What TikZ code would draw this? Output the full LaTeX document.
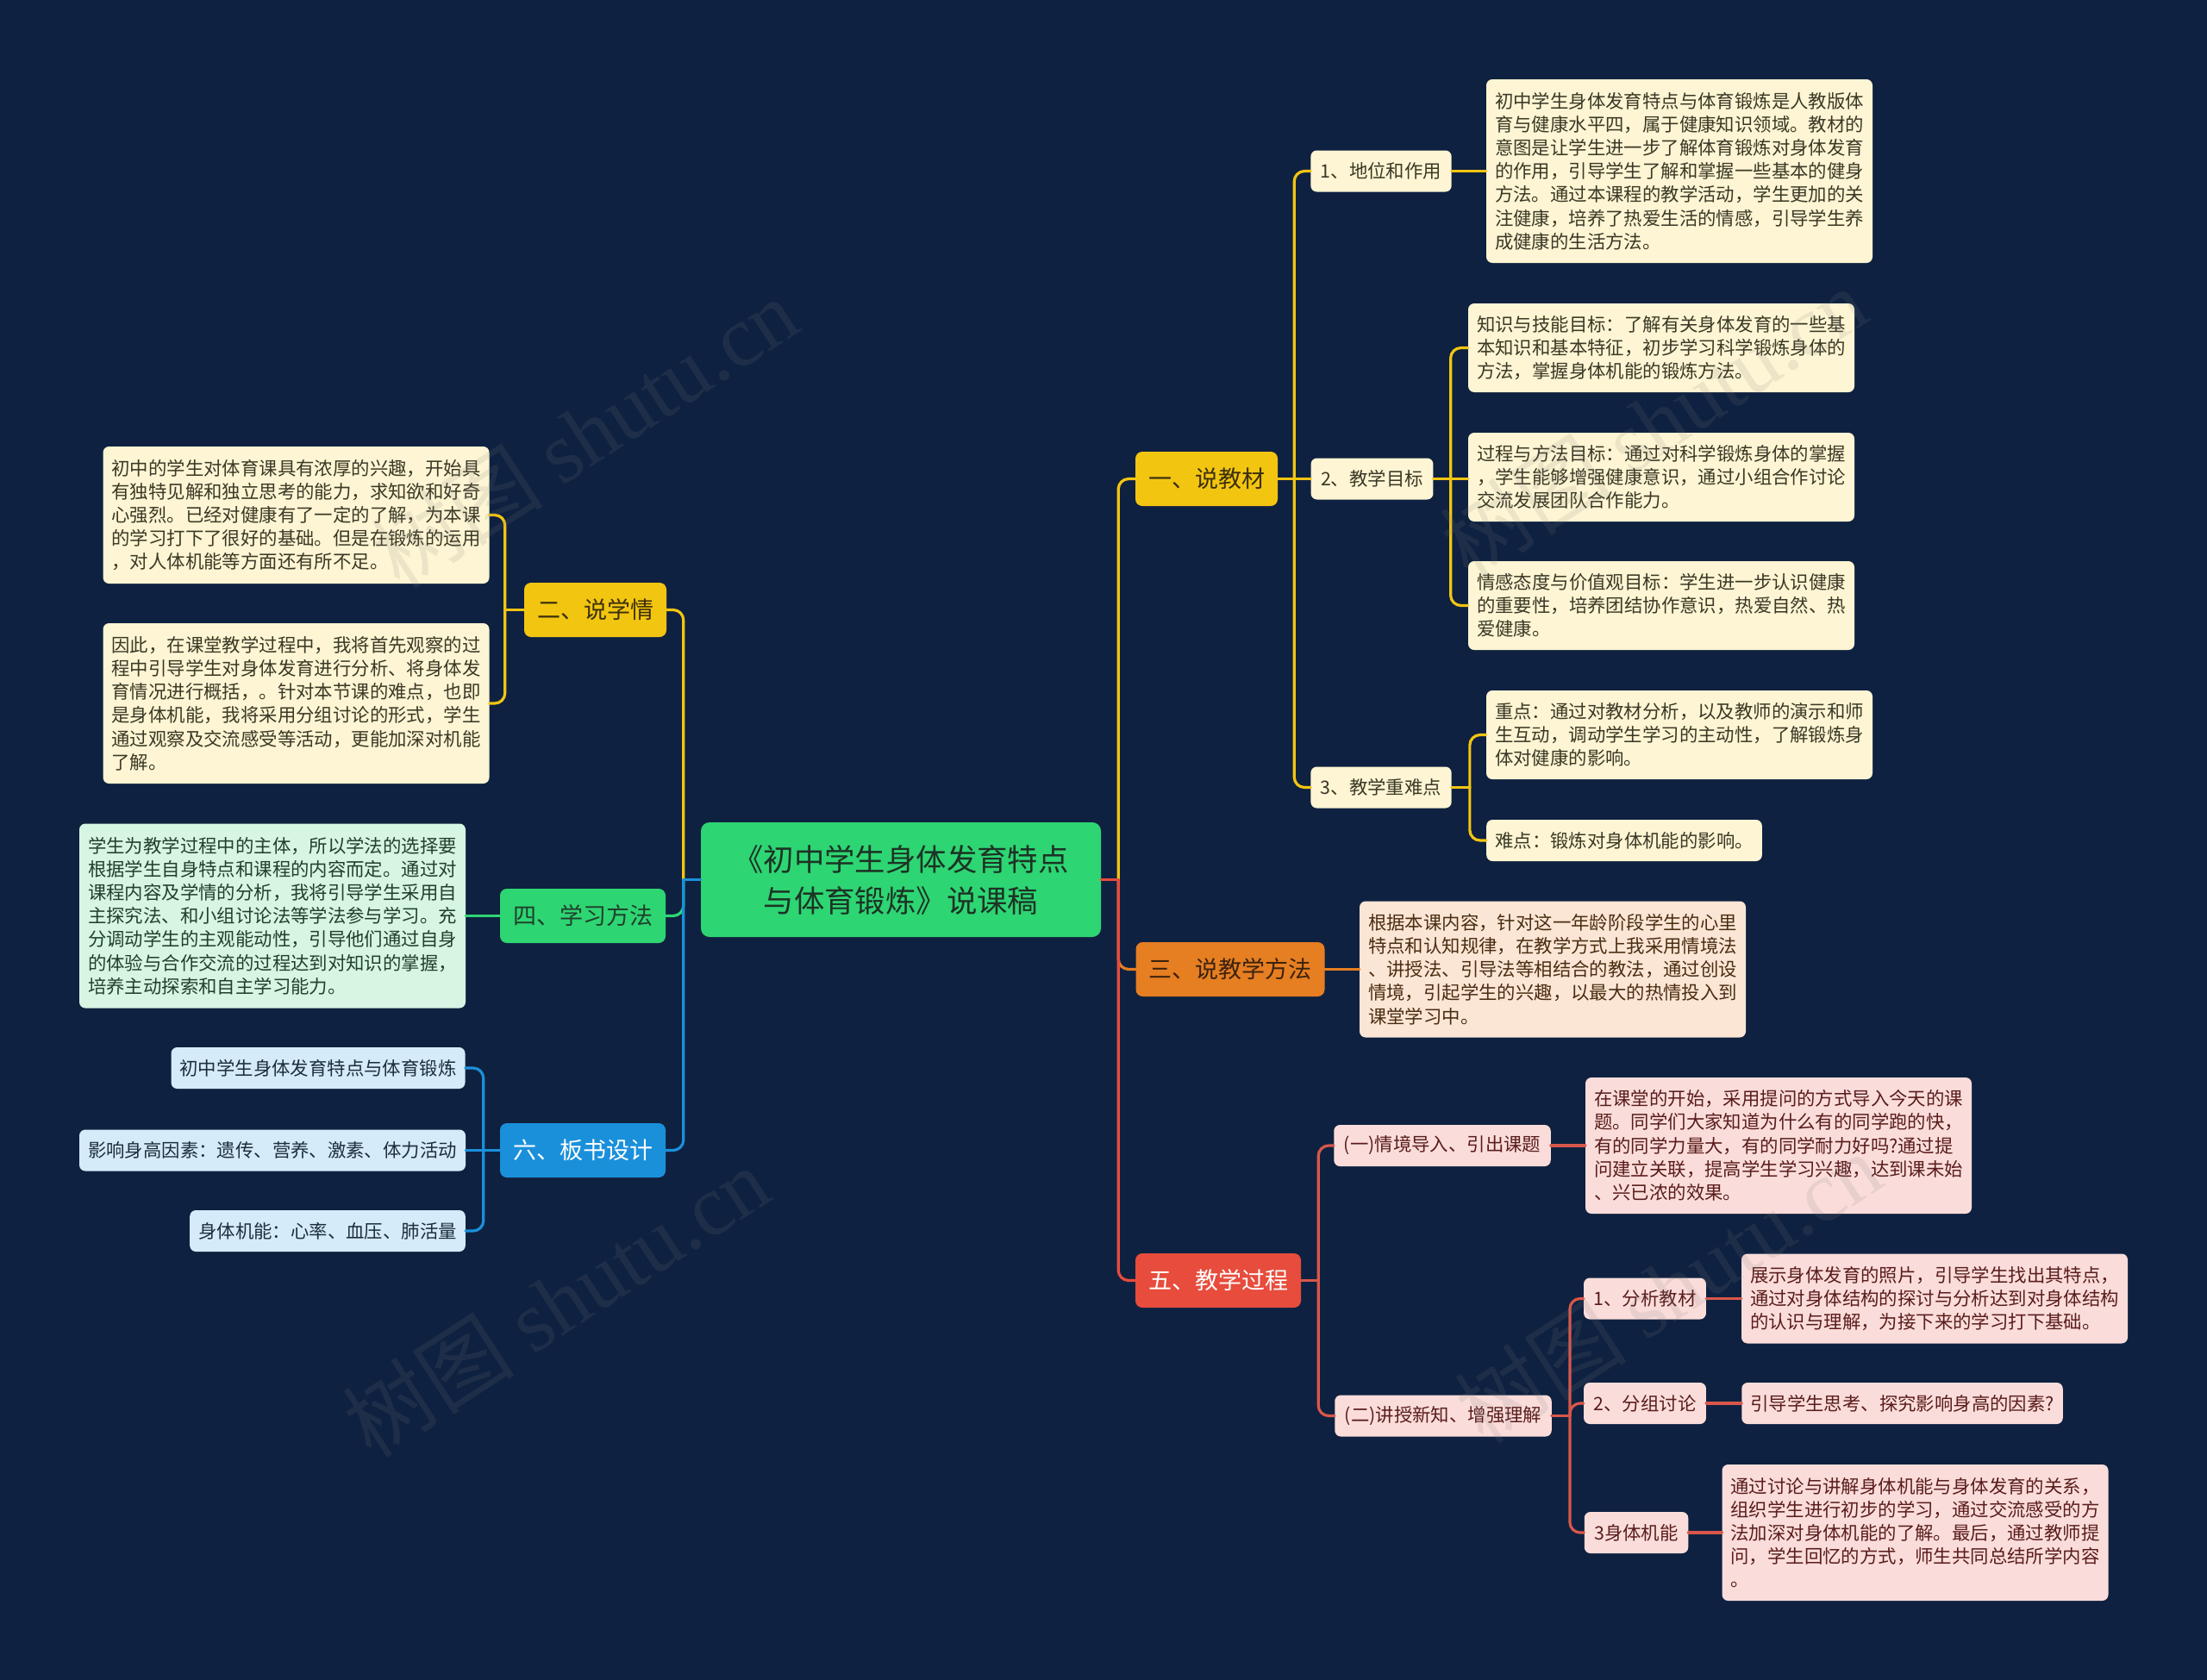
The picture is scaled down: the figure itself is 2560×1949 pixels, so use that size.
\documentclass[tikz,border=0pt]{standalone}
\usepackage{fontspec}
\setmainfont{Noto Sans CJK SC}
\newfontfamily\wmserif{Liberation Serif}
\usetikzlibrary{calc}
\definecolor{bgc}{HTML}{0F2140}
\definecolor{yel}{HTML}{F2C511}
\definecolor{cream}{HTML}{FDF5D3}
\definecolor{creamtxt}{HTML}{3A3826}
\definecolor{rootg}{HTML}{2ED573}
\definecolor{roottxt}{HTML}{1C3325}
\definecolor{lgreen}{HTML}{D6F6E3}
\definecolor{lgreentxt}{HTML}{20402C}
\definecolor{blu}{HTML}{1A90DB}
\definecolor{lblue}{HTML}{D5EBF9}
\definecolor{lbluetxt}{HTML}{1B2E3D}
\definecolor{ora}{HTML}{E67E22}
\definecolor{oratxt}{HTML}{3A220C}
\definecolor{peach}{HTML}{FBE6D5}
\definecolor{peachtxt}{HTML}{4A2D12}
\definecolor{redm}{HTML}{E74C3C}
\definecolor{reds}{HTML}{D9574A}
\definecolor{pink}{HTML}{FADDDA}
\definecolor{pinktxt}{HTML}{5A1C1C}
\definecolor{yeltxt}{HTML}{3B2F0B}
\newcommand\fsL{\fontsize{21.4pt}{27.2pt}\selectfont}
\newcommand\fsM{\fontsize{27pt}{32pt}\selectfont}
\newcommand\fsR{\fontsize{35.4pt}{48pt}\selectfont}
\newcommand\fsW{\fontsize{100pt}{110pt}\selectfont}
\newcommand\elbow[4]{\draw[conn,#1] (#2) -- (#3); \draw[conn,#1,rounded corners=12pt] (#3) |- (#4);}
\tikzset{
  conn/.style={line width=3.2pt, line cap=round},
  rootbox/.style={rounded corners=10pt, fill=rootg, text=roottxt, font=\fsR, align=center, minimum width=464pt, minimum height=133pt},
  lvlone/.style={rounded corners=8pt, minimum height=63pt, inner xsep=15pt, font=\fsM},
  lvltwo/.style={rounded corners=7pt, minimum height=48pt, inner xsep=11.5pt, font=\fsL},
  leaf/.style={rounded corners=7pt, inner xsep=10pt, inner ysep=6pt, align=left, font=\fsL},
  wm/.style={font=\fsW, text=gray, text opacity=0.14, rotate=33}
}
\begin{document}
\begin{tikzpicture}[x=1pt,y=-1pt]
\useasboundingbox[fill=bgc] (0,0) rectangle (2560,1949);

% root
\node[rootbox] (root) at (1045,1020.5) {《初中学生身体发育特点\\与体育锻炼》说课稿};

% level one
\node[lvlone, fill=yel, text=yeltxt] (n1) at (1399.5,555.5) {一、说教材};
\node[lvlone, fill=ora, text=oratxt] (n3) at (1427,1124.5) {三、说教学方法};
\node[lvlone, fill=redm, text=white] (n5) at (1413,1485.5) {五、教学过程};
\node[lvlone, fill=yel, text=yeltxt] (n2) at (690.5,707.5) {二、说学情};
\node[lvlone, fill=rootg, text=lgreentxt] (n4) at (676,1062.5) {四、学习方法};
\node[lvlone, fill=blu, text=white] (n6) at (676,1334.5) {六、板书设计};

% branch one
\node[lvltwo, fill=cream, text=creamtxt] (a1) at (1602,198.5) {1、地位和作用};
\node[lvltwo, fill=cream, text=creamtxt] (a2) at (1591.5,555.5) {2、教学目标};
\node[lvltwo, fill=cream, text=creamtxt] (a3) at (1602,913.5) {3、教学重难点};
\node[leaf, fill=cream, text=creamtxt, minimum height=213pt] (a1t) at (1948,198.5) {初中学生身体发育特点与体育锻炼是人教版体\\育与健康水平四，属于健康知识领域。教材的\\意图是让学生进一步了解体育锻炼对身体发育\\的作用，引导学生了解和掌握一些基本的健身\\方法。通过本课程的教学活动，学生更加的关\\注健康，培养了热爱生活的情感，引导学生养\\成健康的生活方法。};
\node[leaf, fill=cream, text=creamtxt, minimum height=103pt] (a2a) at (1927,403.5) {知识与技能目标：了解有关身体发育的一些基\\本知识和基本特征，初步学习科学锻炼身体的\\方法，掌握身体机能的锻炼方法。};
\node[leaf, fill=cream, text=creamtxt, minimum height=103pt] (a2b) at (1927,553.5) {过程与方法目标：通过对科学锻炼身体的掌握\\，学生能够增强健康意识，通过小组合作讨论\\交流发展团队合作能力。};
\node[leaf, fill=cream, text=creamtxt, minimum height=103pt] (a2c) at (1927,702.5) {情感态度与价值观目标：学生进一步认识健康\\的重要性，培养团结协作意识，热爱自然、热\\爱健康。};
\node[leaf, fill=cream, text=creamtxt, minimum height=103pt] (a3a) at (1948,852.5) {重点：通过对教材分析，以及教师的演示和师\\生互动，调动学生学习的主动性，了解锻炼身\\体对健康的影响。};
\node[leaf, fill=cream, text=creamtxt, minimum height=48pt] (a3b) at (1884,975) {难点：锻炼对身体机能的影响。};

% branch two
\node[leaf, fill=cream, text=creamtxt, minimum height=159pt] (b1) at (343.5,597.5) {初中的学生对体育课具有浓厚的兴趣，开始具\\有独特见解和独立思考的能力，求知欲和好奇\\心强烈。已经对健康有了一定的了解，为本课\\的学习打下了很好的基础。但是在锻炼的运用\\，对人体机能等方面还有所不足。};
\node[leaf, fill=cream, text=creamtxt, minimum height=186pt] (b2) at (343.5,816) {因此，在课堂教学过程中，我将首先观察的过\\程中引导学生对身体发育进行分析、将身体发\\育情况进行概括，。针对本节课的难点，也即\\是身体机能，我将采用分组讨论的形式，学生\\通过观察及交流感受等活动，更能加深对机能\\了解。};

% branch four
\node[leaf, fill=lgreen, text=lgreentxt, minimum height=214pt] (d1) at (316,1062.5) {学生为教学过程中的主体，所以学法的选择要\\根据学生自身特点和课程的内容而定。通过对\\课程内容及学情的分析，我将引导学生采用自\\主探究法、和小组讨论法等学法参与学习。充\\分调动学生的主观能动性，引导他们通过自身\\的体验与合作交流的过程达到对知识的掌握，\\培养主动探索和自主学习能力。};

% branch six
\node[leaf, fill=lblue, text=lbluetxt, minimum height=48pt] (f1) at (369,1239) {初中学生身体发育特点与体育锻炼};
\node[leaf, fill=lblue, text=lbluetxt, minimum height=48pt] (f2) at (316,1334.5) {影响身高因素：遗传、营养、激素、体力活动};
\node[leaf, fill=lblue, text=lbluetxt, minimum height=48pt] (f3) at (380,1428) {身体机能：心率、血压、肺活量};

% branch three
\node[leaf, fill=peach, text=peachtxt, minimum height=158pt] (c1) at (1801,1124.5) {根据本课内容，针对这一年龄阶段学生的心里\\特点和认知规律，在教学方式上我采用情境法\\、讲授法、引导法等相结合的教法，通过创设\\情境，引起学生的兴趣，以最大的热情投入到\\课堂学习中。};

% branch five
\node[lvltwo, fill=pink, text=pinktxt] (e1) at (1673,1329) {(一)情境导入、引出课题};
\node[lvltwo, fill=pink, text=pinktxt] (e2) at (1674,1642.5) {(二)讲授新知、增强理解};
\node[leaf, fill=pink, text=pinktxt, minimum height=158pt] (e1t) at (2063,1329) {在课堂的开始，采用提问的方式导入今天的课\\题。同学们大家知道为什么有的同学跑的快，\\有的同学力量大，有的同学耐力好吗?通过提\\问建立关联，提高学生学习兴趣，达到课未始\\、兴已浓的效果。};
\node[lvltwo, fill=pink, text=pinktxt] (g1) at (1908,1506.5) {1、分析教材};
\node[lvltwo, fill=pink, text=pinktxt] (g2) at (1908,1628) {2、分组讨论};
\node[lvltwo, fill=pink, text=pinktxt] (g3) at (1898,1778) {3身体机能};
\node[leaf, fill=pink, text=pinktxt, minimum height=104pt] (g1t) at (2244,1506.5) {展示身体发育的照片，引导学生找出其特点，\\通过对身体结构的探讨与分析达到对身体结构\\的认识与理解，为接下来的学习打下基础。};
\node[leaf, fill=pink, text=pinktxt, minimum height=48pt] (g2t) at (2206.5,1628) {引导学生思考、探究影响身高的因素?};
\node[leaf, fill=pink, text=pinktxt, minimum height=158pt] (g3t) at (2221.5,1778) {通过讨论与讲解身体机能与身体发育的关系，\\组织学生进行初步的学习，通过交流感受的方\\法加深对身体机能的了解。最后，通过教师提\\问，学生回忆的方式，师生共同总结所学内容\\。};

% junctions
\coordinate (jR) at ($(root.east)+(20,0)$);
\coordinate (jL) at ($(root.west)+(-20,0)$);
\coordinate (j1) at ($(n1.east)+(19,0)$);
\coordinate (j12) at ($(a2.east)+(20,0)$);
\coordinate (j13) at ($(a3.east)+(21,0)$);
\coordinate (j2) at ($(n2.west)+(-22,0)$);
\coordinate (j6) at ($(n6.west)+(-19,0)$);
\coordinate (j5) at ($(n5.east)+(20,0)$);
\coordinate (j52) at ($(e2.east)+(21,0)$);

% connectors: root right
\elbow{yel}{root.east}{jR}{n1.west}
\elbow{ora}{root.east}{jR}{n3.west}
\elbow{redm}{root.east}{jR}{n5.west}
% root left
\elbow{yel}{root.west}{jL}{n2.east}
\elbow{rootg}{root.west}{jL}{n4.east}
\elbow{blu}{root.west}{jL}{n6.east}
% branch one
\elbow{yel}{n1.east}{j1}{a1.west}
\elbow{yel}{n1.east}{j1}{a3.west}
\draw[conn,yel] (n1.east) -- (a2.west);
\draw[conn,yel] (a1.east) -- (a1.east -| a1t.west);
\elbow{yel}{a2.east}{j12}{a2a.west}
\elbow{yel}{a2.east}{j12}{a2c.west}
\draw[conn,yel] (a2.east) -- (a2.east -| a2b.west);
\elbow{yel}{a3.east}{j13}{a3a.west}
\elbow{yel}{a3.east}{j13}{a3b.west}
% branch two
\elbow{yel}{n2.west}{j2}{b1.east}
\elbow{yel}{n2.west}{j2}{b2.east}
% branch four
\draw[conn,rootg] (n4.west) -- (n4.west -| d1.east);
% branch six
\elbow{blu}{n6.west}{j6}{f1.east}
\elbow{blu}{n6.west}{j6}{f3.east}
\draw[conn,blu] (n6.west) -- (n6.west -| f2.east);
% branch three
\draw[conn,ora] (n3.east) -- (n3.east -| c1.west);
% branch five
\elbow{reds}{n5.east}{j5}{e1.west}
\elbow{reds}{n5.east}{j5}{e2.west}
\draw[conn,reds] (e1.east) -- (e1.east -| e1t.west);
\elbow{reds}{e2.east}{j52}{g1.west}
\elbow{reds}{e2.east}{j52}{g2.west}
\elbow{reds}{e2.east}{j52}{g3.west}
\draw[conn,reds] (g1.east) -- (g1.east -| g1t.west);
\draw[conn,reds] (g2.east) -- (g2.east -| g2t.west);
\draw[conn,reds] (g3.east) -- (g3.east -| g3t.west);

% watermarks
\node[wm] (wm1) at (678,502) {树图 {\wmserif shutu.cn}};
\node[wm] (wm2) at (645,1510) {树图 {\wmserif shutu.cn}};
\node[wm] (wm3) at (1918,490) {树图 {\wmserif shutu.cn}};
\node[wm] (wm4) at (1935,1494) {树图 {\wmserif shutu.cn}};
\end{tikzpicture}
\end{document}
